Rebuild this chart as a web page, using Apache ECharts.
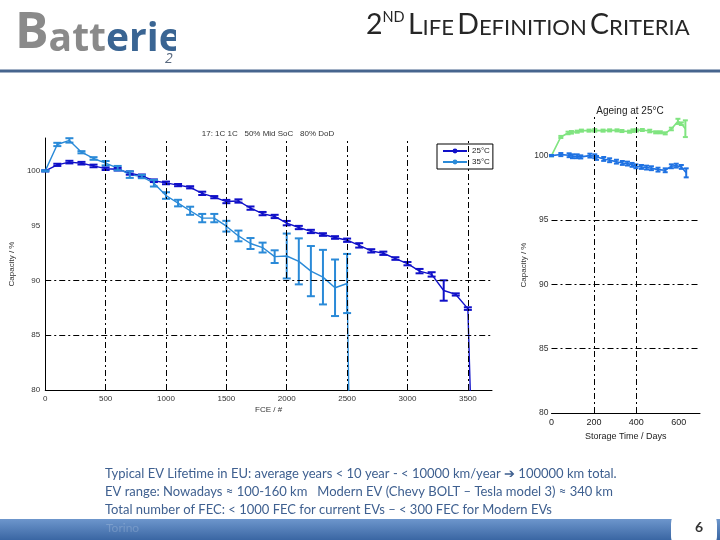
<!DOCTYPE html>
<html><head><meta charset="utf-8">
<script src="https://cdn.jsdelivr.net/npm/echarts@6/dist/echarts.min.js"></script>
<style>html,body{margin:0;padding:0;background:#fff}#c{width:720px;height:540px}</style>
</head><body><div id="c"></div>
<script>
// ---- Cycle ageing (main chart) ----
const fce25 = [0,100,200,300,400,500,600,700,800,900,1000,1100,1200,1300,1400,1500,1600,1700,1800,1900,2000,2100,2200,2300,2400,2500,2600,2700,2800,2900,3000,3100,3200,3300,3400,3500,3525];
const cap25 = [100,100.55,100.8,100.7,100.45,100.2,100.15,99.8,99.55,99.1,98.9,98.7,98.5,97.95,97.6,97.2,97.25,96.6,96.1,95.84,95.23,94.83,94.47,94.19,93.92,93.67,93.2,92.7,92.48,92.0,91.53,90.85,90.55,89.08,88.72,87.43,78];
const err25 = [0.05,0.1,0.12,0.12,0.12,0.12,0.12,0.15,0.12,0.12,0.12,0.1,0.1,0.15,0.1,0.15,0.15,0.15,0.15,0.15,0.2,0.15,0.15,0.12,0.12,0.15,0.2,0.15,0.15,0.12,0.15,0.2,0.2,0.93,0.1,0.12,0];
const fce35 = [0,100,200,300,400,500,600,700,800,900,1000,1100,1200,1300,1400,1500,1600,1700,1800,1900,2000,2100,2200,2300,2400,2500,2515];
const cap35 = [100,102.41,102.78,101.7,101.13,100.7,100.25,99.66,99.48,98.87,97.75,97.06,96.36,95.69,95.69,94.95,94.06,93.37,93.0,92.17,92.23,91.74,90.85,90.3,89.33,89.72,79];
const err35 = [0.05,0.15,0.2,0.1,0.12,0.2,0.2,0.3,0.15,0.3,0.3,0.3,0.37,0.38,0.38,0.49,0.49,0.5,0.45,0.58,2.05,2.1,2.29,2.49,2.58,2.7,0];
const mainGridX = [500,1000,1500,2000,2500,3000,3500];
const mainGridY = [85,90];

// ---- Storage ageing at 25°C (right chart) ----
const daysGreen = [0,44,78,94,121,141,177,204,243,274,309,332,368,384,400,428,463,491,513,536,565,596,612,631];
const capGreen = [100,101.45,101.76,101.81,101.86,101.94,101.94,101.96,101.94,101.96,101.96,101.91,101.86,101.94,101.96,101.99,101.91,101.81,101.81,101.73,102.07,102.66,102.48,102.09];
const errGreen = [0.05,0.08,0.1,0.1,0.08,0.08,0.08,0.1,0.08,0.08,0.08,0.08,0.08,0.1,0.08,0.08,0.1,0.08,0.08,0.08,0.1,0.2,0.1,0.65];
const daysBlue = [0,44,83,99,121,138,181,204,212,246,274,306,334,358,380,398,424,448,471,502,536,565,588,612,635];
const capBlue = [100,100.08,100.03,99.95,99.95,99.9,100,99.95,99.82,99.74,99.64,99.53,99.43,99.38,99.28,99.17,99.12,99.07,99.02,98.91,98.86,99.17,99.22,99.12,98.66];
const errBlue = [0.05,0.12,0.15,0.15,0.15,0.12,0.15,0.15,0.15,0.15,0.15,0.15,0.15,0.15,0.15,0.15,0.15,0.15,0.15,0.15,0.15,0.15,0.15,0.15,0.35];
const ageGridX = [200,400];
const ageGridY = [85,90,95];

const bodyLines = [
  'Typical EV Lifetime in EU: average years < 10 year - < 10000 km/year \u2794 100000 km total.',
  'EV range: Nowadays \u2248 100-160 km   Modern EV (Chevy BOLT \u2013 Tesla model 3) \u2248 340 km',
  'Total number of FEC: < 1000 FEC for current EVs \u2013 < 300 FEC for Modern EVs'
];

const C25 = '#1010c8', C35 = '#2a8ad8', CG = '#80e480', CB = '#1f72e2';
const dashDot = [6,3,2,3];

function pairs(xs, ys){ return xs.map((x,i)=>[x, ys[i]]); }
function triples(xs, ys, es){ return xs.map((x,i)=>[x, ys[i], es[i]]).filter(d=>d[2]>0); }
function errRender(capHalf, lw, color){
  return function(params, api){
    const x = api.value(0), y = api.value(1), e = api.value(2);
    const t = api.coord([x, y+e]), b = api.coord([x, y-e]);
    const st = {stroke: color, lineWidth: lw};
    return {type:'group', children:[
      {type:'line', shape:{x1:t[0],y1:t[1],x2:b[0],y2:b[1]}, style:st},
      {type:'line', shape:{x1:t[0]-capHalf,y1:t[1],x2:t[0]+capHalf,y2:t[1]}, style:st},
      {type:'line', shape:{x1:b[0]-capHalf,y1:b[1],x2:b[0]+capHalf,y2:b[1]}, style:st}
    ]};
  };
}
function gridMarks(xs, ys){
  return {silent:true, symbol:'none', label:{show:false},
    lineStyle:{color:'#000', width:1, type:dashDot},
    data: xs.map(v=>({xAxis:v})).concat(ys.map(v=>({yAxis:v})))};
}
const plain = v => String(v);

const lblFont = 'Liberation Sans';
const chart = echarts.init(document.getElementById('c'));
chart.setOption({
  animation:false,
  backgroundColor:'#fff',
  title:[
    {text:'17: 1C 1C   50% Mid SoC   80% DoD', left:263, top:125, textAlign:'center',
     textStyle:{fontSize:8, fontWeight:'normal', color:'#333', fontFamily:lblFont}},
    {text:'Ageing at 25\u00b0C', left:625, top:101, textAlign:'center',
     textStyle:{fontSize:10, fontWeight:'normal', color:'#222', fontFamily:lblFont}}
  ],
  legend:{data:['25\u00b0C','35\u00b0C'], left:437, top:144, orient:'vertical',
    backgroundColor:'#fff', borderColor:'#000', borderWidth:1, padding:[3,3,3,5], itemGap:3,
    itemWidth:24, itemHeight:6, textStyle:{fontSize:8, color:'#222', fontFamily:lblFont}},
  grid:[
    {left:36, top:138, width:456, height:252},
    {left:551.5, top:117, width:148.5, height:296}
  ],
  xAxis:[
    {gridIndex:0, type:'value', min:0, max:3700, interval:500,
     axisLine:{lineStyle:{color:'#000', width:1}}, axisTick:{show:false}, splitLine:{show:false},
     axisLabel:{fontSize:8, color:'#333', margin:5, fontFamily:lblFont, showMaxLabel:false, formatter:plain},
     name:'FCE / #', nameLocation:'middle', nameGap:16, nameTextStyle:{fontSize:8, color:'#333', fontFamily:lblFont}},
    {gridIndex:1, type:'value', min:0, max:700, interval:200,
     axisLine:{lineStyle:{color:'#000', width:1}}, axisTick:{show:false}, splitLine:{show:false},
     axisLabel:{fontSize:9, color:'#222', margin:5, fontFamily:lblFont, showMaxLabel:false, formatter:plain},
     name:'Storage Time / Days', nameLocation:'middle', nameGap:19, nameTextStyle:{fontSize:9, color:'#222', fontFamily:lblFont}}
  ],
  yAxis:[
    {gridIndex:0, type:'value', min:80, max:103, interval:5,
     axisLine:{show:true, lineStyle:{color:'#000', width:1}}, axisTick:{show:false}, splitLine:{show:false},
     axisLabel:{fontSize:8, color:'#333', margin:5, fontFamily:lblFont, showMaxLabel:false, formatter:plain},
     name:'Capacity / %', nameLocation:'middle', nameGap:24, nameTextStyle:{fontSize:8, color:'#333', fontFamily:lblFont}},
    {gridIndex:1, type:'value', min:80, max:103, interval:5,
     axisLine:{show:false}, axisTick:{show:false}, splitLine:{show:false},
     axisLabel:{fontSize:8.5, color:'#333', margin:3, fontFamily:lblFont, showMaxLabel:false, formatter:plain},
     name:'Capacity / %', nameLocation:'middle', nameGap:24, nameTextStyle:{fontSize:8, color:'#333', fontFamily:lblFont}}
  ],
  series:[
    {type:'line', name:'grid0', xAxisIndex:0, yAxisIndex:0, data:[], z:1, markLine:gridMarks(mainGridX, mainGridY)},
    {type:'line', name:'grid1', xAxisIndex:1, yAxisIndex:1, data:[], z:1, markLine:gridMarks(ageGridX, ageGridY)},
    {type:'line', name:'25\u00b0C', xAxisIndex:0, yAxisIndex:0, data:pairs(fce25, cap25), symbol:'none',
     lineStyle:{color:C25, width:1.4}, itemStyle:{color:C25}, z:3},
    {type:'line', name:'35\u00b0C', xAxisIndex:0, yAxisIndex:0, data:pairs(fce35, cap35), symbol:'none',
     lineStyle:{color:C35, width:1.4}, itemStyle:{color:C35}, z:3},
    {type:'custom', name:'err25', xAxisIndex:0, yAxisIndex:0, data:triples(fce25, cap25, err25),
     encode:{x:0, y:1}, renderItem:errRender(4, 2, C25), z:4},
    {type:'custom', name:'err35', xAxisIndex:0, yAxisIndex:0, data:triples(fce35, cap35, err35),
     encode:{x:0, y:1}, renderItem:errRender(4, 2, C35), z:4},
    {type:'line', name:'Storage green', xAxisIndex:1, yAxisIndex:1, data:pairs(daysGreen, capGreen), symbol:'none',
     lineStyle:{color:CG, width:1.6}, z:3},
    {type:'line', name:'Storage blue', xAxisIndex:1, yAxisIndex:1, data:pairs(daysBlue, capBlue), symbol:'none',
     lineStyle:{color:CB, width:1.6}, z:3},
    {type:'custom', name:'errG', xAxisIndex:1, yAxisIndex:1, data:triples(daysGreen, capGreen, errGreen),
     encode:{x:0, y:1}, renderItem:errRender(2.5, 2, CG), z:4},
    {type:'custom', name:'errB', xAxisIndex:1, yAxisIndex:1, data:triples(daysBlue, capBlue, errBlue),
     encode:{x:0, y:1}, renderItem:errRender(2.5, 2, CB), z:4}
  ],
  graphic:[
    {type:'text', left:15, top:9, z:10, style:{
      text:'{g|B}{g2|att}{b|erie}', fontFamily:'Open Sans',
      rich:{g:{fontSize:50, fontWeight:'bold', fill:'#8a8a8a', fontFamily:'Open Sans', verticalAlign:'bottom'},
            g2:{fontSize:39, fontWeight:'bold', fill:'#8a8a8a', fontFamily:'Open Sans', verticalAlign:'bottom'},
            b:{fontSize:39, fontWeight:'bold', fill:'#3a6593', fontFamily:'Open Sans', verticalAlign:'bottom'}}}},
    {type:'rect', z:11, shape:{x:176, y:0, width:180, height:60}, style:{fill:'#fff'}},
    {type:'text', x:165, y:52, z:12, style:{text:'2', fontSize:14, fontStyle:'italic', fill:'#5a6a80', fontFamily:'Open Sans'}},
    {type:'text', x:366, y:10, z:10, style:{
      text:'{b|2}{s|ND} {b|L}{m|IFE} {b|D}{m|EFINITION} {b|C}{m|RITERIA}', fill:'#262626',
      rich:{b:{fontSize:28.5, fontFamily:'Lato', fill:'#262626', verticalAlign:'bottom'},
            m:{fontSize:22, fontFamily:'Lato', fill:'#262626', verticalAlign:'bottom'},
            s:{fontSize:14.5, fontFamily:'Lato', fill:'#262626', verticalAlign:'top'}}}},
    {type:'rect', z:10, shape:{x:0, y:69.5, width:720, height:3}, style:{fill:'#46658e'}},
    {type:'text', x:105, y:474, z:10, style:{text:bodyLines[0], fontSize:13, fontFamily:'Lato', fill:'#3f6090', verticalAlign:'middle'}},
    {type:'text', x:105, y:492, z:10, style:{text:bodyLines[1], fontSize:13, fontFamily:'Lato', fill:'#3f6090', verticalAlign:'middle'}},
    {type:'text', x:105, y:510, z:10, style:{text:bodyLines[2], fontSize:13, fontFamily:'Lato', fill:'#3f6090', verticalAlign:'middle'}},
    {type:'rect', z:10, shape:{x:0, y:519, width:720, height:21},
     style:{fill:{type:'linear', x:0, y:0, x2:0, y2:1, colorStops:[{offset:0, color:'#6d96cc'},{offset:1, color:'#3a66a3'}]}}},
    {type:'text', x:106, y:528, z:11, style:{text:'Torino', fontSize:12, fontFamily:'Lato', fill:'rgba(255,255,255,0.18)', verticalAlign:'middle'}},
    {type:'rect', z:11, shape:{x:671, y:510, width:46, height:40, r:14}, style:{fill:'#fff'}},
    {type:'text', x:699, y:527, z:12, style:{text:'6', fontSize:14, fontWeight:'bold', fontFamily:'Lato', fill:'#333', align:'center', verticalAlign:'middle'}}
  ]
});
</script></body></html>
